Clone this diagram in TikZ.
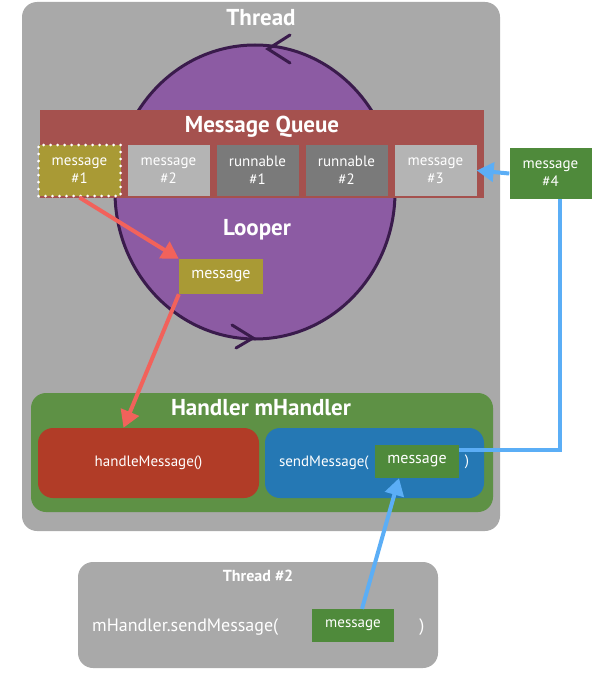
\documentclass[tikz,border=0pt]{standalone}
\usepackage{fontspec}
\setmainfont{PT Sans}
\usetikzlibrary{arrows.meta,positioning}

\definecolor{threadgray}{HTML}{A9A9A9}
\definecolor{looperfill}{HTML}{8C5BA3}
\definecolor{looperline}{HTML}{3A1B4C}
\definecolor{queuered}{HTML}{A5514E}
\definecolor{olive}{HTML}{A99A35}
\definecolor{lightcell}{HTML}{B4B4B4}
\definecolor{darkcell}{HTML}{7A7A7A}
\definecolor{handlergreen}{HTML}{5E9145}
\definecolor{msggreen}{HTML}{4F8A3B}
\definecolor{handlered}{HTML}{B13C27}
\definecolor{sendblue}{HTML}{2578B4}
\definecolor{arrowred}{HTML}{F2625B}
\definecolor{arrowblue}{HTML}{5BAEF6}

\begin{document}
\begin{tikzpicture}[x=1pt, y=-1pt, node distance=89pt,
  panel/.style={inner sep=0pt, rounded corners=15pt},
  cell/.style={minimum width=82pt, minimum height=51pt, inner sep=0pt, text=white, align=center, font=\fontsize{15}{18}\selectfont},
  msgbox/.style={fill=msggreen, minimum width=84pt, minimum height=33pt, inner sep=0pt, text=white, font=\fontsize{16}{16}\selectfont},
  title/.style={text=white, inner sep=0pt, font=\bfseries\fontsize{23}{25}\selectfont},
  code/.style={text=white, inner sep=0pt, font=\fontsize{15}{15}\selectfont},
  loopline/.style={draw=looperline, line width=3pt, line cap=round},
  redarrow/.style={draw=arrowred, line width=4pt, -{Triangle[length=17pt,width=19pt]}},
  bluearrow/.style={draw=arrowblue, line width=4pt, -{Triangle[length=17pt,width=19pt]}}]
\useasboundingbox (0,0) rectangle (596,674);
\node[panel, fill=threadgray, minimum width=478pt, minimum height=529pt] (thread) at (261,266.5) {};
\node[title] (threadtitle) at (261,18) {Thread};
\draw[loopline, fill=looperfill] (255,192) ellipse [x radius=140, y radius=147];
\draw[loopline] (290,35) -- (268,49) -- (290,63);
\draw[loopline] (232,325) -- (253,338) -- (236,348);
\node[fill=queuered, minimum width=444pt, minimum height=88pt, inner sep=0pt] (queue) at (262,154) {};
\node[title] (queuetitle) at (262,127) {Message Queue};
\node[cell, fill=olive, draw=white, line width=3pt, line cap=round, dash pattern=on 0pt off 7pt] (m1) at (79.5,170.5) {message\\\#1};
\node[cell, fill=lightcell] (m2) [right of=m1] {message\\\#2};
\node[cell, fill=darkcell] (m3) [right of=m2] {runnable\\\#1};
\node[cell, fill=darkcell] (m4) [right of=m3] {runnable\\\#2};
\node[cell, fill=lightcell] (m5) [right of=m4] {message\\\#3};
\node[cell, fill=msggreen] (mnew) at (550.5,173.5) {message\\\#4};
\node[title] (loopertitle) at (257,230) {Looper};
\node[msgbox, fill=olive, minimum height=35pt] (lmsg) at (221,276.5) {message};
\node[panel, fill=handlergreen, minimum width=462pt, minimum height=119pt] (handler) at (262,452.5) {};
\node[title] (handlertitle) at (261,408) {Handler mHandler};
\node[panel, fill=handlered, minimum width=221pt, minimum height=70pt, code] (hm) at (148.5,463) {handleMessage()};
\node[panel, fill=sendblue, minimum width=219pt, minimum height=70pt] (sm) at (374.5,463) {};
\node[code, anchor=west] (sendtxt) at ([xshift=14pt]sm.west) {sendMessage(};
\node[msgbox] (smsg) at (417,461.5) {message};
\node[code] (sendclose) at (467,462) {)};
\node[panel, fill=threadgray, minimum width=360pt, minimum height=106pt] (thread2) at (258,615) {};
\node[title, font=\bfseries\fontsize{16}{16}\selectfont] (thread2title) at (258,576) {Thread \#2};
\node[code, anchor=west, font=\fontsize{18}{18}\selectfont] (calltxt) at (92,627) {mHandler.sendMessage(};
\node[msgbox, minimum width=82pt, font=\fontsize{15}{15}\selectfont] (t2msg) at (353,625.5) {message};
\node[code, font=\fontsize{18}{18}\selectfont] (callclose) at (422,627) {)};
\draw[redarrow] (m1.south) -- (lmsg.north west);
\draw[redarrow] (lmsg.south west) -- ([xshift=-25pt]hm.north);
\draw[draw=arrowblue, line width=4pt] ([yshift=12pt]smsg.east) -| ([xshift=9pt]mnew.south);
\draw[bluearrow] (mnew.west) -- (m5.east);
\draw[bluearrow] ([xshift=9pt]t2msg.north) -- ([xshift=-18pt]smsg.south);
\end{tikzpicture}
\end{document}
